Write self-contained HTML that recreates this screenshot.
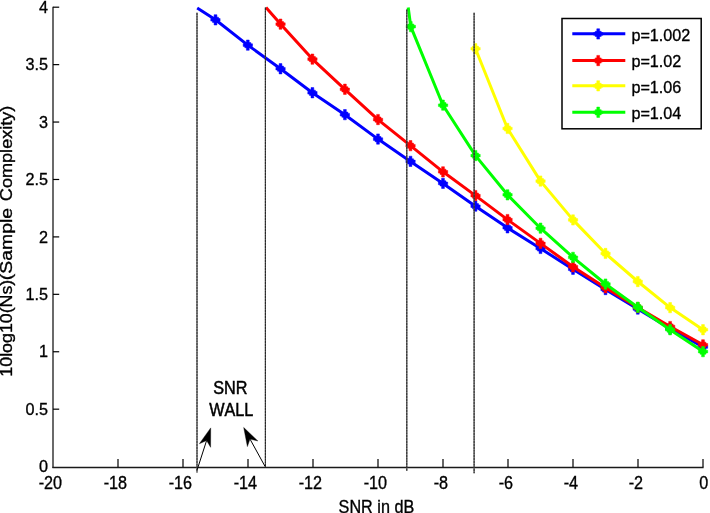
<!DOCTYPE html>
<html><head><meta charset="utf-8"><title>SNR wall</title>
<style>
html,body{margin:0;padding:0;background:#fff;}
svg{display:block;}
text{font-family:"Liberation Sans",sans-serif;font-size:16.2px;fill:#000;stroke:#000;stroke-width:0.32px;font-kerning:none;}
</style></head><body>
<svg width="710" height="513" viewBox="0 0 710 513">
<rect width="710" height="513" fill="#fff"/>

<g stroke="#1a1a1a" stroke-width="1.3" fill="none">
<path d="M53 6.7V468.1"/><path d="M52.4 467.5H703.6"/>
</g>
<g stroke="#000" stroke-width="1.2" fill="none">
<path d="M118.00 467.3V459"/>
<path d="M183.00 467.3V459"/>
<path d="M248.00 467.3V459"/>
<path d="M313.00 467.3V459"/>
<path d="M378.00 467.3V459"/>
<path d="M443.00 467.3V459"/>
<path d="M508.00 467.3V459"/>
<path d="M573.00 467.3V459"/>
<path d="M638.00 467.3V459"/>
<path d="M703.00 467.3V459"/>
<path d="M53 409.18H59.2"/>
<path d="M53 351.75H59.2"/>
<path d="M53 294.33H59.2"/>
<path d="M53 236.90H59.2"/>
<path d="M53 179.48H59.2"/>
<path d="M53 122.05H59.2"/>
<path d="M53 64.63H59.2"/>
<path d="M53 7.20H59.2"/>
</g>
<g text-anchor="middle">
<text transform="translate(50.4 489.3) scale(1 1.1)">-20</text>
<text transform="translate(115.4 489.3) scale(1 1.1)">-18</text>
<text transform="translate(180.4 489.3) scale(1 1.1)">-16</text>
<text transform="translate(245.4 489.3) scale(1 1.1)">-14</text>
<text transform="translate(310.4 489.3) scale(1 1.1)">-12</text>
<text transform="translate(375.4 489.3) scale(1 1.1)">-10</text>
<text transform="translate(440.9 489.3) scale(1 1.1)">-8</text>
<text transform="translate(505.9 489.3) scale(1 1.1)">-6</text>
<text transform="translate(570.9 489.3) scale(1 1.1)">-4</text>
<text transform="translate(635.9 489.3) scale(1 1.1)">-2</text>
<text transform="translate(703.7 489.3) scale(1 1.1)">0</text>
</g>
<g text-anchor="end">
<text transform="translate(48.0 472.3) scale(1 1.05)">0</text>
<text transform="translate(48.0 414.9) scale(1 1.05)">0.5</text>
<text transform="translate(48.0 357.4) scale(1 1.05)">1</text>
<text transform="translate(48.0 300.0) scale(1 1.05)">1.5</text>
<text transform="translate(48.0 242.6) scale(1 1.05)">2</text>
<text transform="translate(48.0 185.2) scale(1 1.05)">2.5</text>
<text transform="translate(48.0 127.8) scale(1 1.05)">3</text>
<text transform="translate(48.0 70.3) scale(1 1.05)">3.5</text>
<text transform="translate(48.0 12.9) scale(1 1.05)">4</text>
</g>
<text transform="translate(376.4 512.8) scale(1 1.1)" text-anchor="middle">SNR in dB</text>
<text transform="translate(12.3 376.66) rotate(-90) scale(1.0987 1.03)">10log10(Ns)</text>
<text transform="translate(12.3 280.13) rotate(-90) scale(1.1977 1.03)">(Sample</text>
<text transform="translate(12.3 201.17) rotate(-90) scale(1.1181 1.03)">Complexity)</text>
<path d="M197.2 8.0 L215.5 19.8 L247.8 45.1 L280.5 68.7 L312.4 92.8 L344.9 114.7 L378.0 139.1 L410.5 161.4 L443.0 183.4 L475.5 206.2 L507.5 227.8 L540.5 248.5 L573.0 269.2 L605.5 289.5 L637.8 309.0 L670.1 328.5 L703.0 347.0" fill="none" stroke="#0000ff" stroke-width="3.0" stroke-linejoin="round"/>
<path d="M210.8 18.5h9.3v2.6h-9.3zM212.5 17.2h6.0v5.2h-6.0zM214.1 14.7h2.8v10.3h-2.8z" fill="#0000ff" stroke="#0000ff" stroke-width="0.5" stroke-linejoin="round"/>
<path d="M243.2 43.8h9.3v2.6h-9.3zM244.8 42.5h6.0v5.2h-6.0zM246.4 40.0h2.8v10.3h-2.8z" fill="#0000ff" stroke="#0000ff" stroke-width="0.5" stroke-linejoin="round"/>
<path d="M275.9 67.4h9.3v2.6h-9.3zM277.5 66.1h6.0v5.2h-6.0zM279.1 63.6h2.8v10.3h-2.8z" fill="#0000ff" stroke="#0000ff" stroke-width="0.5" stroke-linejoin="round"/>
<path d="M307.8 91.5h9.3v2.6h-9.3zM309.4 90.2h6.0v5.2h-6.0zM311.0 87.6h2.8v10.3h-2.8z" fill="#0000ff" stroke="#0000ff" stroke-width="0.5" stroke-linejoin="round"/>
<path d="M340.2 113.4h9.3v2.6h-9.3zM341.9 112.1h6.0v5.2h-6.0zM343.5 109.5h2.8v10.3h-2.8z" fill="#0000ff" stroke="#0000ff" stroke-width="0.5" stroke-linejoin="round"/>
<path d="M373.4 137.8h9.3v2.6h-9.3zM375.0 136.5h6.0v5.2h-6.0zM376.6 133.9h2.8v10.3h-2.8z" fill="#0000ff" stroke="#0000ff" stroke-width="0.5" stroke-linejoin="round"/>
<path d="M405.9 160.1h9.3v2.6h-9.3zM407.5 158.8h6.0v5.2h-6.0zM409.1 156.2h2.8v10.3h-2.8z" fill="#0000ff" stroke="#0000ff" stroke-width="0.5" stroke-linejoin="round"/>
<path d="M438.4 182.1h9.3v2.6h-9.3zM440.0 180.8h6.0v5.2h-6.0zM441.6 178.2h2.8v10.3h-2.8z" fill="#0000ff" stroke="#0000ff" stroke-width="0.5" stroke-linejoin="round"/>
<path d="M470.9 204.9h9.3v2.6h-9.3zM472.5 203.6h6.0v5.2h-6.0zM474.1 201.0h2.8v10.3h-2.8z" fill="#0000ff" stroke="#0000ff" stroke-width="0.5" stroke-linejoin="round"/>
<path d="M502.9 226.5h9.3v2.6h-9.3zM504.5 225.2h6.0v5.2h-6.0zM506.1 222.7h2.8v10.3h-2.8z" fill="#0000ff" stroke="#0000ff" stroke-width="0.5" stroke-linejoin="round"/>
<path d="M535.9 247.2h9.3v2.6h-9.3zM537.5 245.9h6.0v5.2h-6.0zM539.1 243.3h2.8v10.3h-2.8z" fill="#0000ff" stroke="#0000ff" stroke-width="0.5" stroke-linejoin="round"/>
<path d="M568.4 267.9h9.3v2.6h-9.3zM570.0 266.6h6.0v5.2h-6.0zM571.6 264.1h2.8v10.3h-2.8z" fill="#0000ff" stroke="#0000ff" stroke-width="0.5" stroke-linejoin="round"/>
<path d="M600.9 288.2h9.3v2.6h-9.3zM602.5 286.9h6.0v5.2h-6.0zM604.1 284.4h2.8v10.3h-2.8z" fill="#0000ff" stroke="#0000ff" stroke-width="0.5" stroke-linejoin="round"/>
<path d="M633.1 307.7h9.3v2.6h-9.3zM634.8 306.4h6.0v5.2h-6.0zM636.4 303.9h2.8v10.3h-2.8z" fill="#0000ff" stroke="#0000ff" stroke-width="0.5" stroke-linejoin="round"/>
<path d="M665.5 327.2h9.3v2.6h-9.3zM667.1 325.9h6.0v5.2h-6.0zM668.7 323.4h2.8v10.3h-2.8z" fill="#0000ff" stroke="#0000ff" stroke-width="0.5" stroke-linejoin="round"/>
<path d="M698.4 345.7h9.3v2.6h-9.3zM700.0 344.4h6.0v5.2h-6.0zM701.6 341.9h2.8v10.3h-2.8z" fill="#0000ff" stroke="#0000ff" stroke-width="0.5" stroke-linejoin="round"/>

<path d="M266.0 7.6 L280.5 24.1 L312.4 59.1 L344.9 89.3 L378.0 119.6 L410.5 145.7 L443.0 171.8 L475.5 195.6 L507.5 219.6 L540.5 243.4 L573.0 266.7 L605.5 287.8 L637.8 307.5 L670.1 326.5 L703.0 344.8" fill="none" stroke="#ff0000" stroke-width="3.0" stroke-linejoin="round"/>
<path d="M275.9 22.8h9.3v2.6h-9.3zM277.5 21.5h6.0v5.2h-6.0zM279.1 19.0h2.8v10.3h-2.8z" fill="#ff0000" stroke="#ff0000" stroke-width="0.5" stroke-linejoin="round"/>
<path d="M307.8 57.8h9.3v2.6h-9.3zM309.4 56.5h6.0v5.2h-6.0zM311.0 54.0h2.8v10.3h-2.8z" fill="#ff0000" stroke="#ff0000" stroke-width="0.5" stroke-linejoin="round"/>
<path d="M340.2 88.0h9.3v2.6h-9.3zM341.9 86.7h6.0v5.2h-6.0zM343.5 84.1h2.8v10.3h-2.8z" fill="#ff0000" stroke="#ff0000" stroke-width="0.5" stroke-linejoin="round"/>
<path d="M373.4 118.3h9.3v2.6h-9.3zM375.0 117.0h6.0v5.2h-6.0zM376.6 114.4h2.8v10.3h-2.8z" fill="#ff0000" stroke="#ff0000" stroke-width="0.5" stroke-linejoin="round"/>
<path d="M405.9 144.4h9.3v2.6h-9.3zM407.5 143.1h6.0v5.2h-6.0zM409.1 140.5h2.8v10.3h-2.8z" fill="#ff0000" stroke="#ff0000" stroke-width="0.5" stroke-linejoin="round"/>
<path d="M438.4 170.5h9.3v2.6h-9.3zM440.0 169.2h6.0v5.2h-6.0zM441.6 166.7h2.8v10.3h-2.8z" fill="#ff0000" stroke="#ff0000" stroke-width="0.5" stroke-linejoin="round"/>
<path d="M470.9 194.3h9.3v2.6h-9.3zM472.5 193.0h6.0v5.2h-6.0zM474.1 190.4h2.8v10.3h-2.8z" fill="#ff0000" stroke="#ff0000" stroke-width="0.5" stroke-linejoin="round"/>
<path d="M502.9 218.3h9.3v2.6h-9.3zM504.5 217.0h6.0v5.2h-6.0zM506.1 214.4h2.8v10.3h-2.8z" fill="#ff0000" stroke="#ff0000" stroke-width="0.5" stroke-linejoin="round"/>
<path d="M535.9 242.1h9.3v2.6h-9.3zM537.5 240.8h6.0v5.2h-6.0zM539.1 238.2h2.8v10.3h-2.8z" fill="#ff0000" stroke="#ff0000" stroke-width="0.5" stroke-linejoin="round"/>
<path d="M568.4 265.4h9.3v2.6h-9.3zM570.0 264.1h6.0v5.2h-6.0zM571.6 261.6h2.8v10.3h-2.8z" fill="#ff0000" stroke="#ff0000" stroke-width="0.5" stroke-linejoin="round"/>
<path d="M600.9 286.5h9.3v2.6h-9.3zM602.5 285.2h6.0v5.2h-6.0zM604.1 282.7h2.8v10.3h-2.8z" fill="#ff0000" stroke="#ff0000" stroke-width="0.5" stroke-linejoin="round"/>
<path d="M633.1 306.2h9.3v2.6h-9.3zM634.8 304.9h6.0v5.2h-6.0zM636.4 302.4h2.8v10.3h-2.8z" fill="#ff0000" stroke="#ff0000" stroke-width="0.5" stroke-linejoin="round"/>
<path d="M665.5 325.2h9.3v2.6h-9.3zM667.1 323.9h6.0v5.2h-6.0zM668.7 321.4h2.8v10.3h-2.8z" fill="#ff0000" stroke="#ff0000" stroke-width="0.5" stroke-linejoin="round"/>
<path d="M698.4 343.5h9.3v2.6h-9.3zM700.0 342.2h6.0v5.2h-6.0zM701.6 339.7h2.8v10.3h-2.8z" fill="#ff0000" stroke="#ff0000" stroke-width="0.5" stroke-linejoin="round"/>

<path d="M475.5 48.7 L507.5 128.5 L540.5 181.1 L573.0 219.9 L605.5 253.5 L637.8 281.5 L670.1 307.6 L703.0 329.7" fill="none" stroke="#ffff00" stroke-width="3.0" stroke-linejoin="round"/>
<path d="M470.9 47.4h9.3v2.6h-9.3zM472.5 46.1h6.0v5.2h-6.0zM474.1 43.6h2.8v10.3h-2.8z" fill="#ffff00" stroke="#ffff00" stroke-width="0.5" stroke-linejoin="round"/>
<path d="M502.9 127.2h9.3v2.6h-9.3zM504.5 125.9h6.0v5.2h-6.0zM506.1 123.3h2.8v10.3h-2.8z" fill="#ffff00" stroke="#ffff00" stroke-width="0.5" stroke-linejoin="round"/>
<path d="M535.9 179.8h9.3v2.6h-9.3zM537.5 178.5h6.0v5.2h-6.0zM539.1 175.9h2.8v10.3h-2.8z" fill="#ffff00" stroke="#ffff00" stroke-width="0.5" stroke-linejoin="round"/>
<path d="M568.4 218.6h9.3v2.6h-9.3zM570.0 217.3h6.0v5.2h-6.0zM571.6 214.8h2.8v10.3h-2.8z" fill="#ffff00" stroke="#ffff00" stroke-width="0.5" stroke-linejoin="round"/>
<path d="M600.9 252.2h9.3v2.6h-9.3zM602.5 250.9h6.0v5.2h-6.0zM604.1 248.3h2.8v10.3h-2.8z" fill="#ffff00" stroke="#ffff00" stroke-width="0.5" stroke-linejoin="round"/>
<path d="M633.1 280.2h9.3v2.6h-9.3zM634.8 278.9h6.0v5.2h-6.0zM636.4 276.4h2.8v10.3h-2.8z" fill="#ffff00" stroke="#ffff00" stroke-width="0.5" stroke-linejoin="round"/>
<path d="M665.5 306.3h9.3v2.6h-9.3zM667.1 305.0h6.0v5.2h-6.0zM668.7 302.5h2.8v10.3h-2.8z" fill="#ffff00" stroke="#ffff00" stroke-width="0.5" stroke-linejoin="round"/>
<path d="M698.4 328.4h9.3v2.6h-9.3zM700.0 327.1h6.0v5.2h-6.0zM701.6 324.6h2.8v10.3h-2.8z" fill="#ffff00" stroke="#ffff00" stroke-width="0.5" stroke-linejoin="round"/>

<path d="M408.2 7.5 L410.8 26.6 L443.0 105.2 L475.5 155.6 L507.5 194.8 L540.5 228.2 L573.0 257.3 L605.5 284.0 L637.8 307.2 L670.1 329.7 L703.0 351.6" fill="none" stroke="#00ff00" stroke-width="3.0" stroke-linejoin="round"/>
<path d="M406.2 25.3h9.3v2.6h-9.3zM407.8 24.0h6.0v5.2h-6.0zM409.4 21.5h2.8v10.3h-2.8z" fill="#00ff00" stroke="#00ff00" stroke-width="0.5" stroke-linejoin="round"/>
<path d="M438.4 103.9h9.3v2.6h-9.3zM440.0 102.6h6.0v5.2h-6.0zM441.6 100.0h2.8v10.3h-2.8z" fill="#00ff00" stroke="#00ff00" stroke-width="0.5" stroke-linejoin="round"/>
<path d="M470.9 154.3h9.3v2.6h-9.3zM472.5 153.0h6.0v5.2h-6.0zM474.1 150.4h2.8v10.3h-2.8z" fill="#00ff00" stroke="#00ff00" stroke-width="0.5" stroke-linejoin="round"/>
<path d="M502.9 193.5h9.3v2.6h-9.3zM504.5 192.2h6.0v5.2h-6.0zM506.1 189.7h2.8v10.3h-2.8z" fill="#00ff00" stroke="#00ff00" stroke-width="0.5" stroke-linejoin="round"/>
<path d="M535.9 226.9h9.3v2.6h-9.3zM537.5 225.6h6.0v5.2h-6.0zM539.1 223.0h2.8v10.3h-2.8z" fill="#00ff00" stroke="#00ff00" stroke-width="0.5" stroke-linejoin="round"/>
<path d="M568.4 256.0h9.3v2.6h-9.3zM570.0 254.7h6.0v5.2h-6.0zM571.6 252.2h2.8v10.3h-2.8z" fill="#00ff00" stroke="#00ff00" stroke-width="0.5" stroke-linejoin="round"/>
<path d="M600.9 282.7h9.3v2.6h-9.3zM602.5 281.4h6.0v5.2h-6.0zM604.1 278.9h2.8v10.3h-2.8z" fill="#00ff00" stroke="#00ff00" stroke-width="0.5" stroke-linejoin="round"/>
<path d="M633.1 305.9h9.3v2.6h-9.3zM634.8 304.6h6.0v5.2h-6.0zM636.4 302.1h2.8v10.3h-2.8z" fill="#00ff00" stroke="#00ff00" stroke-width="0.5" stroke-linejoin="round"/>
<path d="M665.5 328.4h9.3v2.6h-9.3zM667.1 327.1h6.0v5.2h-6.0zM668.7 324.6h2.8v10.3h-2.8z" fill="#00ff00" stroke="#00ff00" stroke-width="0.5" stroke-linejoin="round"/>
<path d="M698.4 350.3h9.3v2.6h-9.3zM700.0 349.0h6.0v5.2h-6.0zM701.6 346.5h2.8v10.3h-2.8z" fill="#00ff00" stroke="#00ff00" stroke-width="0.5" stroke-linejoin="round"/>

<g stroke="#666" stroke-width="1.1" fill="none"><path d="M197 12.7V472.5"/><path d="M265.4 7.6V467"/><path d="M406.8 9.5V470.8"/><path d="M474.1 12.7V473.3"/></g>
<g stroke="#262626" stroke-width="1.1" stroke-dasharray="2.3 0.5" fill="none"><path d="M197 12.7V472.5"/><path d="M265.4 7.6V467"/><path d="M406.8 9.5V470.8"/><path d="M474.1 12.7V473.3"/></g>
<text transform="translate(230.4 393.8) scale(1 1.08)" text-anchor="middle" style="stroke-width:0.45px">SNR</text>
<text transform="translate(231.2 415.5) scale(1 1.08)" text-anchor="middle" style="stroke-width:0.45px">WALL</text>
<path d="M197.2 469.7L206.6 440.5" stroke="#000" stroke-width="1.0" fill="none"/><path d="M210.7 427.9L210.6 447.3L206.6 440.5L199.4 443.7Z" fill="#000" stroke="#000" stroke-width="0.4"/>
<path d="M265.1 466.5L250.0 439.1" stroke="#000" stroke-width="1.0" fill="none"/><path d="M243.7 427.5L257.8 440.9L250.0 439.1L247.4 446.6Z" fill="#000" stroke="#000" stroke-width="0.4"/>
<rect x="562" y="18.5" width="139.2" height="110.3" fill="#fff" stroke="#000" stroke-width="1.5"/>
<path d="M572.3 33.8H625.3" stroke="#0000ff" stroke-width="3.0" fill="none"/>
<path d="M593.6 32.6h9.3v2.6h-9.3zM595.2 31.3h6.0v5.2h-6.0zM596.8 28.8h2.8v10.3h-2.8z" fill="#0000ff" stroke="#0000ff" stroke-width="0.5" stroke-linejoin="round"/>

<text transform="translate(631.4 41.3) scale(1 1.04)">p=1.002</text>
<path d="M572.3 60.4H625.3" stroke="#ff0000" stroke-width="3.0" fill="none"/>
<path d="M593.6 59.2h9.3v2.6h-9.3zM595.2 57.9h6.0v5.2h-6.0zM596.8 55.4h2.8v10.3h-2.8z" fill="#ff0000" stroke="#ff0000" stroke-width="0.5" stroke-linejoin="round"/>

<text transform="translate(631.4 67.2) scale(1 1.04)">p=1.02</text>
<path d="M572.3 85.8H625.3" stroke="#ffff00" stroke-width="3.0" fill="none"/>
<path d="M593.6 84.6h9.3v2.6h-9.3zM595.2 83.3h6.0v5.2h-6.0zM596.8 80.7h2.8v10.3h-2.8z" fill="#ffff00" stroke="#ffff00" stroke-width="0.5" stroke-linejoin="round"/>

<text transform="translate(631.4 93.2) scale(1 1.04)">p=1.06</text>
<path d="M572.3 112.2H625.3" stroke="#00ff00" stroke-width="3.0" fill="none"/>
<path d="M593.6 111.0h9.3v2.6h-9.3zM595.2 109.7h6.0v5.2h-6.0zM596.8 107.1h2.8v10.3h-2.8z" fill="#00ff00" stroke="#00ff00" stroke-width="0.5" stroke-linejoin="round"/>

<text transform="translate(631.4 118.8) scale(1 1.04)">p=1.04</text>
</svg></body></html>
